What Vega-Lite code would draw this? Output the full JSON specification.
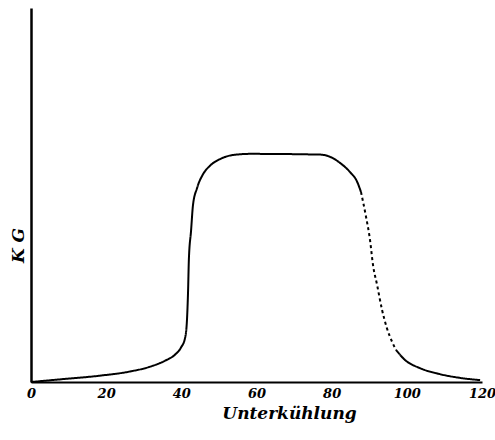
{
  "$schema": "https://vega.github.io/schema/vega-lite/v6.json",
  "width": 451,
  "height": 374,
  "autosize": {"type": "none"},
  "padding": {"left": 31, "top": 8, "right": 13, "bottom": 58},
  "background": "white",
  "data": {"values": [
    {"x": 0, "y": 0, "seg": "a", "style": "solid"},
    {"x": 7.7, "y": 0.7, "seg": "a", "style": "solid"},
    {"x": 18.4, "y": 1.7, "seg": "a", "style": "solid"},
    {"x": 26.3, "y": 2.8, "seg": "a", "style": "solid"},
    {"x": 31.7, "y": 4.1, "seg": "a", "style": "solid"},
    {"x": 35.7, "y": 5.7, "seg": "a", "style": "solid"},
    {"x": 38.3, "y": 7.3, "seg": "a", "style": "solid"},
    {"x": 39.9, "y": 9.2, "seg": "a", "style": "solid"},
    {"x": 41.0, "y": 11.8, "seg": "a", "style": "solid"},
    {"x": 41.5, "y": 16.6, "seg": "a", "style": "solid"},
    {"x": 41.8, "y": 24.6, "seg": "a", "style": "solid"},
    {"x": 42.0, "y": 32.6, "seg": "a", "style": "solid"},
    {"x": 42.6, "y": 40.6, "seg": "a", "style": "solid"},
    {"x": 43.1, "y": 47.3, "seg": "a", "style": "solid"},
    {"x": 44.2, "y": 51.9, "seg": "a", "style": "solid"},
    {"x": 45.8, "y": 55.6, "seg": "a", "style": "solid"},
    {"x": 47.6, "y": 57.8, "seg": "a", "style": "solid"},
    {"x": 50.3, "y": 59.6, "seg": "a", "style": "solid"},
    {"x": 53.8, "y": 60.7, "seg": "a", "style": "solid"},
    {"x": 58.3, "y": 61.0, "seg": "a", "style": "solid"},
    {"x": 76.9, "y": 60.8, "seg": "a", "style": "solid"},
    {"x": 79.6, "y": 60.2, "seg": "a", "style": "solid"},
    {"x": 82.2, "y": 58.6, "seg": "a", "style": "solid"},
    {"x": 84.9, "y": 56.1, "seg": "a", "style": "solid"},
    {"x": 86.7, "y": 53.7, "seg": "a", "style": "solid"},
    {"x": 87.8, "y": 50.8, "seg": "a", "style": "solid"},
    {"x": 87.8, "y": 50.8, "seg": "b", "style": "dashed"},
    {"x": 89.1, "y": 44.4, "seg": "b", "style": "dashed"},
    {"x": 90.2, "y": 38.0, "seg": "b", "style": "dashed"},
    {"x": 91.0, "y": 31.3, "seg": "b", "style": "dashed"},
    {"x": 92.1, "y": 25.9, "seg": "b", "style": "dashed"},
    {"x": 93.4, "y": 19.3, "seg": "b", "style": "dashed"},
    {"x": 94.7, "y": 14.4, "seg": "b", "style": "dashed"},
    {"x": 96.1, "y": 10.7, "seg": "b", "style": "dashed"},
    {"x": 97.1, "y": 8.6, "seg": "b", "style": "dashed"},
    {"x": 97.1, "y": 8.6, "seg": "c", "style": "solid"},
    {"x": 99.5, "y": 5.9, "seg": "c", "style": "solid"},
    {"x": 103.5, "y": 3.7, "seg": "c", "style": "solid"},
    {"x": 108.8, "y": 2.1, "seg": "c", "style": "solid"},
    {"x": 114.2, "y": 1.1, "seg": "c", "style": "solid"},
    {"x": 119.5, "y": 0.5, "seg": "c", "style": "solid"}
  ]},
  "mark": {"type": "line", "interpolate": "monotone", "color": "black", "strokeWidth": 2, "clip": false},
  "encoding": {
    "x": {
      "field": "x", "type": "quantitative",
      "scale": {"domain": [0, 120], "nice": false, "zero": false},
      "axis": {
        "values": [0, 20, 40, 60, 80, 100, 120],
        "grid": false, "ticks": false,
        "domainColor": "black", "domainWidth": 2,
        "labelFont": "DejaVu Serif", "labelFontStyle": "italic", "labelFontWeight": "bold",
        "labelFontSize": 13, "labelColor": "black", "labelPadding": 5,
        "labelFlush": false,
        "title": "Unterkühlung",
        "titleFont": "DejaVu Serif", "titleFontStyle": "italic", "titleFontWeight": "bold",
        "titleFontSize": 17, "titleColor": "black", "titlePadding": 5,
        "titleX": 258, "titleAlign": "center"
      }
    },
    "y": {
      "field": "y", "type": "quantitative",
      "scale": {"domain": [0, 100], "nice": false},
      "axis": {
        "labels": false, "ticks": false, "grid": false,
        "domainColor": "black", "domainWidth": 2.5,
        "title": "K G",
        "titleFont": "DejaVu Serif", "titleFontStyle": "italic", "titleFontWeight": "bold",
        "titleFontSize": 17, "titleColor": "black",
        "titleX": -13, "titleY": 237, "titleAngle": -90, "titleBaseline": "middle"
      }
    },
    "detail": {"field": "seg"},
    "strokeDash": {
      "field": "style", "type": "nominal",
      "scale": {"domain": ["solid", "dashed"], "range": [[1, 0], [3, 3]]},
      "legend": null
    }
  },
  "config": {"view": {"stroke": null}}
}
